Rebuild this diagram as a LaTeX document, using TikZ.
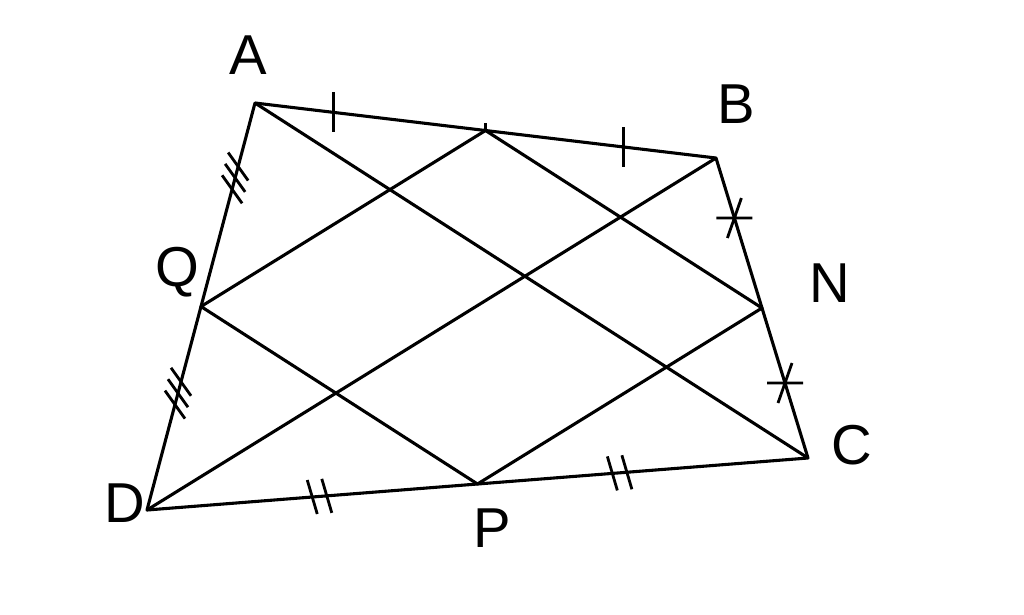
\documentclass[tikz,border=0pt]{standalone}
\usepackage{fontspec}
\setmainfont{Liberation Sans}
\usepackage{tikz}
\tikzstyle{seg}=[line width=2.2pt,line join=round]
\tikzstyle{tick}=[line width=2pt]
\tikzstyle{lbl}=[font=\fontsize{40}{48}\selectfont,inner sep=0pt]
\usetikzlibrary{calc}

\begin{document}
\begin{tikzpicture}[x=0.025cm,y=-0.025cm]
\useasboundingbox (0,0) rectangle (1024,614);
\coordinate (A) at (255,103);
\coordinate (B) at (716,158);
\coordinate (C) at (808,458);
\coordinate (D) at (147,510);
\coordinate (M) at ($(A)!0.5!(B)$);
\coordinate (N) at ($(B)!0.5!(C)$);
\coordinate (P) at ($(C)!0.5!(D)$);
\coordinate (Q) at ($(D)!0.5!(A)$);

\node (lA) [lbl] at (248,55) {A};
\node (lB) [lbl] at (736,104) {B};
\node (lN) [lbl] at (830,283) {N};
\node (lC) [lbl] at (852,445) {C};
\node (lP) [lbl] at (492,528) {P};
\node (lD) [lbl] at (125,503) {D};
\node (lQ) [lbl] at (177,272) {Q};

\draw[seg] (A)--(B)--(C)--(D)--cycle;
\draw[seg] (A)--(C) (B)--(D);
\draw[seg] (M)--(N)--(P)--(Q)--cycle;

% marks
\draw[tick] (M) -- ++(0,-8);
\foreach \t in {0.17,0.8}
  \draw[tick] ($(A)!\t!(B)$) +(0,-20) -- +(0,20);
\foreach \t in {0.2,0.75}
  \draw[tick] ($(B)!\t!(C)$) +(-18,0) -- +(18,0)
              ($(B)!\t!(C)$) +(7,-20) -- +(-7,20);
\foreach \t in {0.25,0.272,0.704,0.726}
  \draw[tick] ($(D)!\t!(C)$) +(-5,-17) -- +(5,17);
\foreach \t in {0.259,0.287,0.315,0.788,0.816,0.844}
  \draw[tick] ($(D)!\t!(A)$) +(-10,-14) -- +(10,14);

\end{tikzpicture}
\end{document}
